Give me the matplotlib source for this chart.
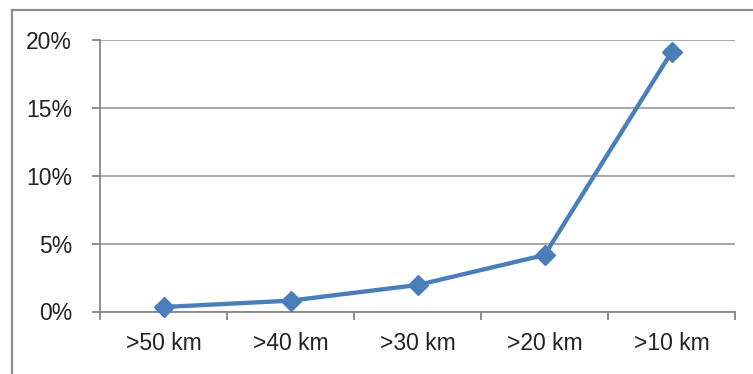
import matplotlib
matplotlib.use('Agg')
import matplotlib.pyplot as plt
from matplotlib.lines import Line2D
from matplotlib.ticker import FixedLocator, FuncFormatter

categories = ['>50 km', '>40 km', '>30 km', '>20 km', '>10 km']
shares = [0.33, 0.80, 1.95, 4.16, 19.1]
y_ticks = [0, 5, 10, 15, 20]

plt.rcParams['font.family'] = ['Liberation Sans', 'DejaVu Sans']

fig = plt.figure(figsize=(7.53, 3.74), dpi=100)
ax = fig.add_axes([100/753, 1 - 311.5/374, 635/753, 271.5/374])

grid_col = '#a0a0a0'
axis_col = '#868686'
line_col = '#4a7ebb'

x = list(range(len(categories)))
ax.plot(x, shares, color=line_col, linewidth=3.1, marker='D', markersize=10.5,
        markerfacecolor=line_col, markeredgecolor=line_col, zorder=3, clip_on=False)

ax.set_xlim(-0.5, len(categories) - 0.5)
ax.set_ylim(0, 20)

ax.set_yticks(y_ticks)
ax.yaxis.set_major_formatter(FuncFormatter(lambda v, p: '{:.0f}%'.format(v)))
ax.yaxis.grid(True, color=grid_col, linewidth=1.3)
ax.set_axisbelow(True)

# categories centered, tick marks between them
ax.set_xticks(x)
ax.set_xticklabels(categories)
ax.xaxis.set_minor_locator(FixedLocator([i - 0.5 for i in range(len(categories) + 1)]))
ax.tick_params(axis='x', which='major', length=0, pad=15, labelsize=16.5, labelcolor='#222222')
ax.tick_params(axis='x', which='minor', length=6, width=1.3, color=axis_col, direction='out')
ax.tick_params(axis='y', length=6, width=1.3, color=axis_col, pad=14, labelsize=16.5, labelcolor='#222222')

for side in ['top', 'right']:
  ax.spines[side].set_visible(False)
for side in ['left', 'bottom']:
  ax.spines[side].set_color(axis_col)
  ax.spines[side].set_linewidth(1.3)

# outer chart frame (cut off on right and bottom)
fw, fh = 753., 374.
fig.add_artist(Line2D([12/fw, 12/fw], [0, 1 - 10/fh], color='#8c8c8c', linewidth=1.6))
fig.add_artist(Line2D([12/fw, 1], [1 - 10/fh, 1 - 10/fh], color='#8c8c8c', linewidth=1.6))

fig.savefig('out.png', dpi=100)
